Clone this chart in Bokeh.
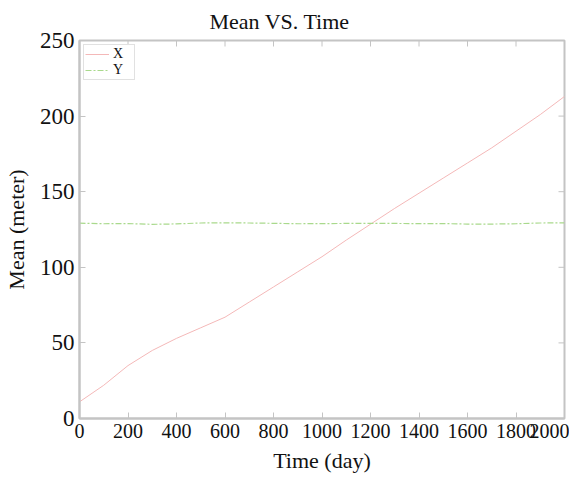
import math
from bokeh.plotting import figure
from bokeh.models import Range1d, FixedTicker, Legend, LegendItem
from bokeh.embed import file_html
from bokeh.resources import INLINE

time_days = [0, 100, 200, 300, 400, 500, 600, 700, 800, 900, 1000,
             1100, 1200, 1300, 1400, 1500, 1600, 1700, 1800, 1900, 2000]
mean_x = [11, 22, 35, 45, 53, 60, 67, 77, 87, 97, 107,
          118, 128.5, 139, 149, 159, 169, 179, 190, 201, 213]
mean_y = [129.2, 128.8, 128.9, 128.4, 128.7, 129.3, 129.4, 129.3, 129.1, 128.8, 128.9,
          129.0, 129.1, 129.0, 128.9, 128.9, 128.6, 128.6, 128.8, 129.3, 129.4]
x_ticks = [0, 200, 400, 600, 800, 1000, 1200, 1400, 1600, 1800, 2000]
y_ticks = [0, 50, 100, 150, 200, 250]

FONT = "Liberation Serif"
AX = "#c4c4c4"

p = figure(width=569, height=475, output_backend="svg", toolbar_location=None,
           x_range=Range1d(x_ticks[0], x_ticks[-1]), y_range=Range1d(y_ticks[0], y_ticks[-1]),
           title="Mean VS. Time")
p.min_border_left = 76
p.min_border_right = 5
p.min_border_top = 39
p.min_border_bottom = 54
p.title.text_font = FONT
p.title.text_font_size = "22px"
p.title.text_font_style = "normal"
p.title.align = "left"
p.title.offset = 130
p.title.standoff = 13
p.title.text_color = "#111111"
p.grid.visible = False
p.outline_line_color = AX
p.outline_line_width = 2
p.background_fill_color = "white"
p.border_fill_color = "white"

for ax in (p.xaxis[0], p.yaxis[0]):
    ax.major_label_text_font = FONT
    ax.major_label_text_color = "#111111"
    ax.axis_label_text_font = FONT
    ax.axis_label_text_font_size = "22px"
    ax.axis_label_text_font_style = "normal"
    ax.axis_label_text_color = "#111111"
    ax.major_tick_in = 6
    ax.major_tick_out = 0
    ax.minor_tick_line_color = None
    ax.axis_line_color = AX
    ax.axis_line_width = 2
    ax.major_tick_line_color = AX

p.xaxis[0].major_label_text_font_size = "20px"
p.yaxis[0].major_label_text_font_size = "23px"
p.xaxis[0].ticker = FixedTicker(ticks=x_ticks)
p.yaxis[0].ticker = FixedTicker(ticks=y_ticks)
p.xaxis[0].axis_label = "Time (day)"
p.yaxis[0].axis_label = "Mean (meter)"
p.xaxis[0].major_label_standoff = 5
p.yaxis[0].major_label_standoff = 5
p.xaxis[0].axis_label_standoff = 7
p.yaxis[0].axis_label_standoff = 8

# mirrored inward ticks on top and right edges
p.scatter(x=x_ticks, y=[y_ticks[-1]] * len(x_ticks), marker="dash", angle=math.pi / 2,
          size=12, line_color=AX, line_width=1)
p.scatter(x=[x_ticks[-1]] * len(y_ticks), y=y_ticks, marker="dash", angle=0,
          size=12, line_color=AX, line_width=1)

rx = p.line(time_days, mean_x, line_color="#f4b8b8", line_width=1)
ry = p.line(time_days, mean_y, line_color="#a9d98c", line_width=1.2, line_dash="6 2 2 2")

legend = Legend(items=[LegendItem(label="X", renderers=[rx]), LegendItem(label="Y", renderers=[ry])],
                location="top_left", label_text_font=FONT, label_text_font_size="14px",
                label_text_color="#111111", border_line_color=AX, border_line_width=1,
                glyph_width=24, glyph_height=12, label_height=12, spacing=0,
                padding=1, margin=4, label_standoff=4)
legend.margin = 4
p.add_layout(legend)

open("out.html", "w").write(file_html(p, INLINE))
